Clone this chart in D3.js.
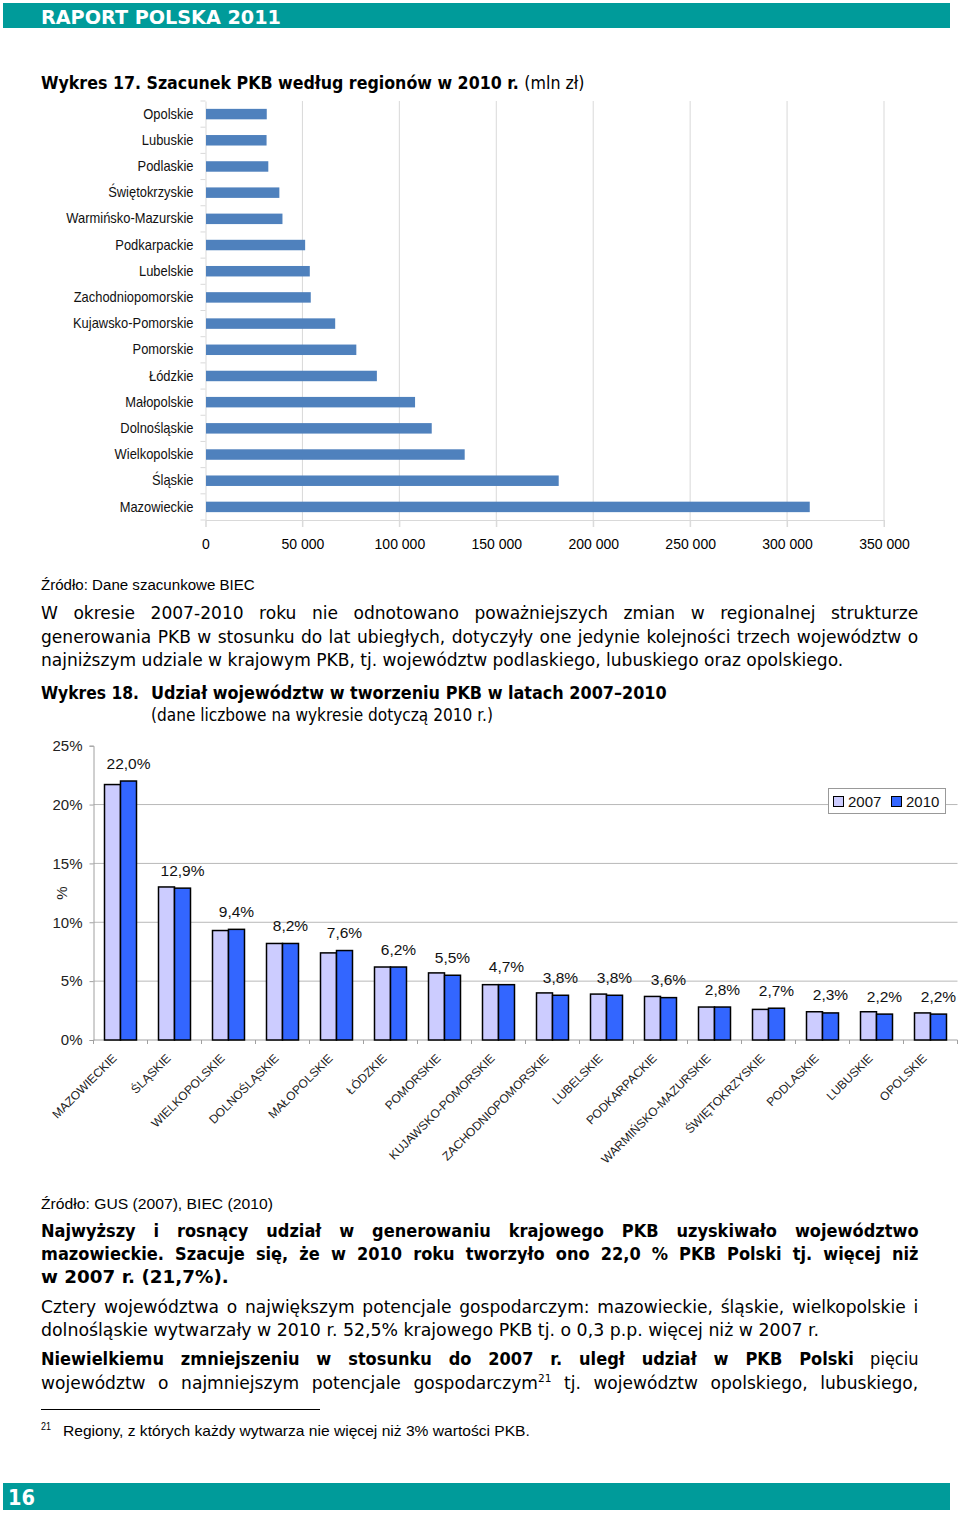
<!DOCTYPE html>
<html><head><meta charset="utf-8">
<script src="https://cdn.jsdelivr.net/npm/d3@7"></script>
<style>body{margin:0;background:#fff}svg{display:block}</style>
</head><body>
<svg id="page" width="960" height="1518"></svg>
<script>
// ---------- DATA ----------
const regions17 = ["Opolskie","Lubuskie","Podlaskie","Świętokrzyskie","Warmińsko-Mazurskie","Podkarpackie","Lubelskie","Zachodniopomorskie","Kujawsko-Pomorskie","Pomorskie","Łódzkie","Małopolskie","Dolnośląskie","Wielkopolskie","Śląskie","Mazowieckie"];
const pkb2010 = [31600,31500,32400,38100,39700,51400,53800,54300,66900,77800,88400,108100,116700,133700,182200,311700];
const ticks17 = [0,50000,100000,150000,200000,250000,300000,350000];

const regions18 = ["MAZOWIECKIE","ŚLĄSKIE","WIELKOPOLSKIE","DOLNOŚLĄSKIE","MAŁOPOLSKIE","ŁÓDZKIE","POMORSKIE","KUJAWSKO-POMORSKIE","ZACHODNIOPOMORSKIE","LUBELSKIE","PODKARPACKIE","WARMIŃSKO-MAZURSKIE","ŚWIĘTOKRZYSKIE","PODLASKIE","LUBUSKIE","OPOLSKIE"];
const share2007 = [21.7,13.0,9.3,8.2,7.4,6.2,5.7,4.7,4.0,3.9,3.7,2.8,2.6,2.4,2.4,2.3];
const share2010 = [22.0,12.9,9.4,8.2,7.6,6.2,5.5,4.7,3.8,3.8,3.6,2.8,2.7,2.3,2.2,2.2];
const years18 = ["2007","2010"];
const ticks18 = [0,5,10,15,20,25];

// ---------- HELPERS ----------
const svg = d3.select("#page");
svg.append("rect").attr("width",960).attr("height",1518).attr("fill","#fff");
const TAHOMA = "'DejaVu Sans',sans-serif";
const ARIAL = "'Liberation Sans',Arial,sans-serif";
const TEAL = "#009b9a";

function buildText(parent, parts, size, family, fill) {
  const t = parent.append("text").attr("x", 0).attr("y", 0)
    .style("font-family", family || TAHOMA).style("font-size", size + "px")
    .attr("fill", fill || "#000");
  let prevSup = false, full = "";
  parts.forEach(p => {
    const ts = t.append("tspan").text(p.t);
    if (p.bold) ts.style("font-weight", "bold");
    if (p.sup) { ts.style("font-size", (size * 0.62) + "px").attr("dy", -size * 0.42); }
    else if (prevSup) { ts.attr("dy", size * 0.42); }
    prevSup = !!p.sup;
    full += p.t;
  });
  return {t, full, w: t.node().getComputedTextLength()};
}
function scaleFor(parts, width, size, family) {
  const g = svg.append("g");
  const r = buildText(g, parts, size, family);
  g.remove();
  return width / r.w;
}
function textLine(parts, x, y, width, mode, size, family, fill, s) {
  const g = svg.append("g");
  const r = buildText(g, parts, size, family, fill);
  if (mode === "fit") s = width / r.w;
  s = s || 1;
  g.attr("transform", `translate(${x},${y}) scale(${s},1)`);
  if (mode === "justify") {
    const n = (r.full.match(/ /g) || []).length;
    const ws = (width / s - r.w) / n;
    r.t.style("word-spacing", ws + "px");
  }
  return r.t;
}

// ---------- HEADER / FOOTER ----------
svg.append("rect").attr("x",3).attr("y",3).attr("width",947).attr("height",25).attr("fill",TEAL);
textLine([{t:"RAPORT POLSKA 2011",bold:true}], 41, 24, 240, "fit", 20, TAHOMA, "#fff");
svg.append("rect").attr("x",3).attr("y",1483).attr("width",947).attr("height",27).attr("fill",TEAL);
textLine([{t:"16",bold:true}], 8, 1505, 27, "fit", 22, TAHOMA, "#fff");

// ---------- TITLE 17 ----------
textLine([{t:"Wykres 17.  Szacunek PKB według regionów w 2010 r. ",bold:true},{t:"(mln zł)"}], 41, 89, 544, "fit", 17.5);

// ---------- CHART 17 ----------
const x17 = d3.scaleLinear().domain([0,350000]).range([205.5,884]);
const y17 = d3.scaleBand().domain(regions17).range([101,520]).paddingInner(0.6).paddingOuter(0.3);
const g17 = svg.append("g");
g17.selectAll("line.grid").data(ticks17.slice(1)).join("line")
  .attr("x1",d=>x17(d)).attr("x2",d=>x17(d)).attr("y1",101).attr("y2",527)
  .attr("stroke","#d9d9d9").attr("stroke-width",1);
const ax17 = d3.axisBottom(x17).tickValues(ticks17).tickSize(7)
  .tickFormat(d => d3.format(",")(d).replace(/,/g," "));
const gx17 = g17.append("g").attr("transform","translate(0,520)").call(ax17);
gx17.select(".domain").attr("stroke","#d9d9d9");
gx17.selectAll(".tick line").attr("stroke","#d9d9d9");
gx17.selectAll(".tick text").attr("y",19).style("font-family",ARIAL).style("font-size","14px").attr("fill","#000");
const ay17 = d3.axisLeft(y17).tickSize(0).tickPadding(12);
const gy17 = g17.append("g").attr("transform","translate(205.5,0)").call(ay17);
gy17.select(".domain").attr("stroke","#d9d9d9");
gy17.selectAll(".tick text").style("font-family",ARIAL).style("font-size","14.5px").attr("fill","#111")
  .each(function(){ const w=this.getComputedTextLength(); d3.select(this).attr("textLength", w*0.89).attr("lengthAdjust","spacingAndGlyphs"); });
const step17 = y17.step();
g17.selectAll("line.lt").data(d3.range(17)).join("line")
  .attr("x1",200.5).attr("x2",205.5)
  .attr("y1",i=>101+i*step17).attr("y2",i=>101+i*step17)
  .attr("stroke","#d9d9d9");
g17.selectAll("rect.bar").data(regions17).join("rect")
  .attr("x",x17(0)+0.5).attr("y",d=>y17(d))
  .attr("width",(d,i)=>x17(pkb2010[i])-x17(0)-0.5).attr("height",y17.bandwidth())
  .attr("fill","#4f81bd");

// ---------- SOURCE 17 ----------
textLine([{t:"Źródło: Dane szacunkowe BIEC"}], 41, 590, 214, "fit", 15, ARIAL);

// ---------- PARAGRAPH SCALES ----------
const FS = 17.5;
const sN = scaleFor([{t:"najniższym udziale w krajowym PKB, tj. województw podlaskiego, lubuskiego oraz opolskiego."}], 803, FS);
const sB = scaleFor([{t:"Niewielkiemu",bold:true}], 123, FS);

// ---------- PARAGRAPH 1 ----------
textLine([{t:"W okresie 2007-2010 roku nie odnotowano poważniejszych zmian w regionalnej strukturze"}], 41, 619, 878, "justify", FS, TAHOMA, "#000", sN);
textLine([{t:"generowania PKB w stosunku do lat ubiegłych, dotyczyły one jedynie kolejności trzech województw o"}], 41, 643, 878, "justify", FS, TAHOMA, "#000", sN);
textLine([{t:"najniższym udziale w krajowym PKB, tj. województw podlaskiego, lubuskiego oraz opolskiego."}], 41, 666, 803, "fit", FS);

// ---------- TITLE 18 ----------
textLine([{t:"Wykres 18.",bold:true}], 41, 699, 98, "fit", FS);
textLine([{t:"Udział województw w  tworzeniu PKB w latach 2007–2010",bold:true}], 151, 699, 516, "fit", FS);
textLine([{t:"(dane liczbowe na wykresie dotyczą 2010 r.)"}], 151, 721, 342, "fit", FS);

// ---------- CHART 18 ----------
const x18 = d3.scaleBand().domain(regions18).range([93.5,957.5]).paddingInner(0.4075).paddingOuter(0.20375);
const x18s = d3.scaleBand().domain(years18).range([0,x18.bandwidth()]);
const y18 = d3.scaleLinear().domain([0,25]).range([1040,745.7]);
const g18 = svg.append("g");
g18.selectAll("line.grid").data(ticks18.filter(d=>d>0 && d<25)).join("line")
  .attr("x1",93.5).attr("x2",957.5).attr("y1",d=>y18(d)).attr("y2",d=>y18(d))
  .attr("stroke","#b8b8b8").attr("stroke-width",1);
const ay18 = d3.axisLeft(y18).tickValues(ticks18).tickSize(4).tickPadding(7).tickFormat(d=>d+"%");
const gy18 = g18.append("g").attr("transform","translate(93.5,0)").call(ay18);
gy18.select(".domain").attr("stroke","#a0a0a0");
gy18.selectAll(".tick line").attr("stroke","#a0a0a0");
gy18.selectAll(".tick text").style("font-family",ARIAL).style("font-size","15px").attr("fill","#222");
g18.append("line").attr("x1",93.5).attr("x2",957.5).attr("y1",1040).attr("y2",1040).attr("stroke","#a0a0a0");
const step18 = x18.step();
g18.selectAll("line.bt").data(d3.range(17)).join("line")
  .attr("x1",i=>93.5+i*step18).attr("x2",i=>93.5+i*step18).attr("y1",1040).attr("y2",1044)
  .attr("stroke","#a0a0a0");
svg.append("text").attr("transform","translate(67,893) rotate(-90)").attr("text-anchor","middle")
  .style("font-family",ARIAL).style("font-size","15px").attr("fill","#222").text("%");
const colors18 = {"2007":"#ccccff","2010":"#3366ff"};
const groups = g18.selectAll("g.cat").data(regions18).join("g")
  .attr("transform",d=>`translate(${x18(d)},0)`);
groups.selectAll("rect").data((d,i)=>[{k:"2007",v:share2007[i]},{k:"2010",v:share2010[i]}]).join("rect")
  .attr("x",d=>x18s(d.k)).attr("width",x18s.bandwidth())
  .attr("y",d=>y18(d.v)).attr("height",d=>y18(0)-y18(d.v))
  .attr("fill",d=>colors18[d.k]).attr("stroke","#000").attr("stroke-width",1.5);
groups.append("text")
  .attr("x",(d)=>x18s("2010")+x18s.bandwidth()/2)
  .attr("y",(d,i)=>y18(share2010[i])-12.5)
  .attr("text-anchor","middle").style("font-family",ARIAL).style("font-size","15.5px").attr("fill","#111")
  .text((d,i)=>d3.format(".1f")(share2010[i]).replace(".",",")+"%");
g18.selectAll("text.cat").data(regions18).join("text")
  .attr("transform",d=>`translate(${x18(d)+x18.bandwidth()/2-3},1059) rotate(-45)`)
  .attr("text-anchor","end").style("font-family",ARIAL).style("font-size","12px").attr("fill","#222")
  .text(d=>d);
const lg = svg.append("g");
lg.append("rect").attr("x",828.5).attr("y",788.5).attr("width",117).attr("height",25)
  .attr("fill","#fff").attr("stroke","#999");
years18.forEach((yr,i)=>{
  const lx = 833 + i*58;
  lg.append("rect").attr("x",lx+0.5).attr("y",796.5).attr("width",10).attr("height",10)
    .attr("fill",colors18[yr]).attr("stroke","#000").attr("stroke-width",1);
  lg.append("text").attr("x",lx+15).attr("y",806.5).style("font-family",ARIAL).style("font-size","15px")
    .attr("fill","#111").text(yr);
});

// ---------- SOURCE 18 ----------
textLine([{t:"Źródło: GUS (2007),  BIEC (2010)"}], 41, 1209, 232, "fit", 15, ARIAL);

// ---------- PARAGRAPHS ----------
textLine([{t:"Najwyższy i rosnący udział w generowaniu krajowego PKB uzyskiwało województwo",bold:true}], 41, 1237, 878, "justify", FS, TAHOMA, "#000", sB);
textLine([{t:"mazowieckie. Szacuje się, że w 2010 roku tworzyło ono 22,0 % PKB Polski tj. więcej niż",bold:true}], 41, 1260, 878, "justify", FS, TAHOMA, "#000", sB);
textLine([{t:"w 2007 r. (21,7%).",bold:true}], 41, 1283, 188, "fit", FS);

textLine([{t:"Cztery województwa o największym potencjale gospodarczym: mazowieckie, śląskie, wielkopolskie i"}], 41, 1313, 878, "justify", FS, TAHOMA, "#000", sN);
textLine([{t:"dolnośląskie wytwarzały w 2010 r. 52,5% krajowego PKB tj. o 0,3 p.p. więcej niż w 2007 r."}], 41, 1336, 779, "fit", FS);

textLine([{t:"Niewielkiemu zmniejszeniu w stosunku do 2007 r. uległ udział w PKB Polski",bold:true},{t:" pięciu"}], 41, 1365, 878, "justify", FS, TAHOMA, "#000", sB);
textLine([{t:"województw o najmniejszym potencjale gospodarczym"},{t:"21",sup:true},{t:" tj. województw opolskiego, lubuskiego,"}], 41, 1389, 878, "justify", FS, TAHOMA, "#000", sN);

svg.append("line").attr("x1",41).attr("x2",320).attr("y1",1409.5).attr("y2",1409.5).attr("stroke","#000").attr("stroke-width",1);
textLine([{t:"21"}], 41, 1430, 10, "fit", 10, ARIAL);
textLine([{t:"Regiony, z których każdy wytwarza nie więcej niż  3% wartości PKB."}], 63, 1436, 467, "fit", 15, ARIAL);
</script>
</body></html>
